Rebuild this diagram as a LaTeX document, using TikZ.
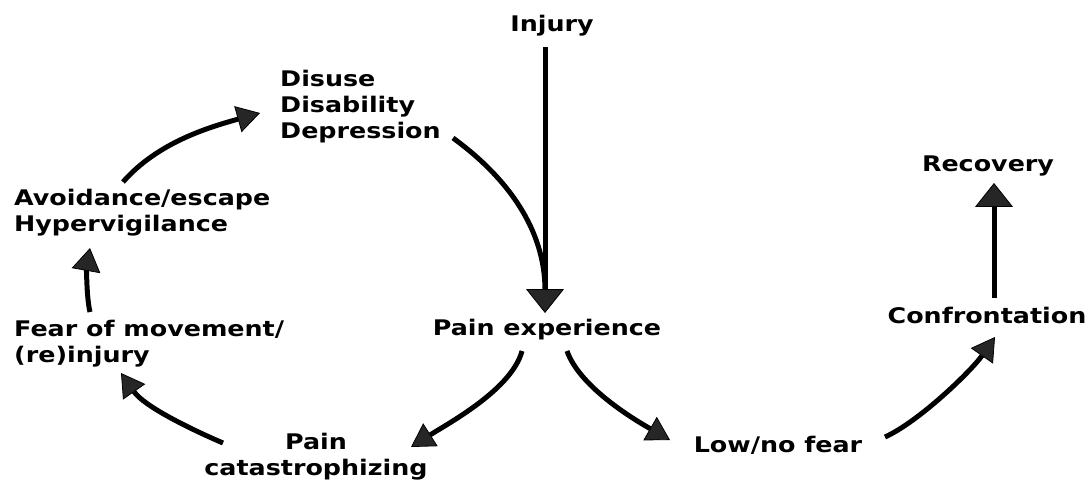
\documentclass[tikz,border=0pt]{standalone}
\usepackage{fontspec}
\newfontfamily\lblfont{DejaVu Sans Bold}[FakeStretch=1.18]
\usetikzlibrary{arrows.meta,calc}
\begin{document}
\begin{tikzpicture}[x=1pt,y=-1pt,
  lbl/.style={inner sep=0pt, font=\lblfont\fontsize{21.5}{26}\selectfont, text=black},
  plain/.style={line width=5pt, draw=black},
  arr/.style={plain, -{Triangle[width=27pt,length=23pt,fill=black!85,line width=0.8pt]}},
  midarr/.style={plain, -{Triangle[width=29pt,length=23pt,fill=black!85,line width=0.8pt]}},
  bigarr/.style={plain, -{Triangle[width=38pt,length=24pt,fill=black!85,line width=0.8pt]}}]
\useasboundingbox (0,0) rectangle (1090,481);
\fill[white] (0,0) rectangle (1090,481);
% labels
\node[lbl, anchor=base] (inj) at (552,32) {Injury};
\node[lbl, anchor=base west, align=left] (dis) at (280,139) {Disuse\\Disability\\Depression};
\node[lbl, anchor=base west, align=left] (avo) at (14,232) {Avoidance/escape\\Hypervigilance};
\node[lbl, anchor=base west, align=left] (fear) at (14,362) {Fear of movement/\\(re)injury};
\node[lbl, anchor=base, align=center] (cat) at (316,475) {Pain\\catastrophizing};
\node[lbl, anchor=base] (pe) at (547,335) {Pain experience};
\node[lbl, anchor=base] (rec) at (988,172) {Recovery};
\node[lbl, anchor=base] (conf) at (987,323) {Confrontation};
\node[lbl, anchor=base] (low) at (778,452) {Low/no fear};
% connectors
\draw[bigarr] ($(inj.base)+(-7,15)$) -- ($(pe.base)+(-2,-22)$);
\draw[plain] ($(dis.base west)+(173,-1)$) .. controls +(55,40) and +(0,-60) .. ($(pe.base)+(-2,-45)$);
\draw[arr] ($(avo.base west)+(109,-50)$) .. controls +(35,-40) and +(-50,14) .. ($(dis.base west)+(-20,-26)$);
\draw[midarr] ($(fear.base west)+(76,-50)$) .. controls +(-4,-17) and +(-3,17) .. ($(avo.base west)+(76,16)$);
\draw[arr] ($(cat.base)+(-93,-32)$) .. controls +(-35,-15) and +(23,33) .. ($(fear.base west)+(107,11)$);
\draw[arr] ($(pe.base)+(-25,16)$) .. controls +(-10,38) and +(38,-24) .. ($(cat.base)+(95,-28)$);
\draw[arr] ($(pe.base)+(20,16)$) .. controls +(12,34) and +(-42,-24) .. ($(low.base)+(-108,-12)$);
\draw[arr] ($(low.base)+(107,-15)$) .. controls +(35,-16) and +(-23,33) .. ($(conf.base)+(8,14)$);
\draw[bigarr] ($(conf.base)+(7,-25)$) -- ($(rec.base)+(6,11)$);
\end{tikzpicture}
\end{document}
